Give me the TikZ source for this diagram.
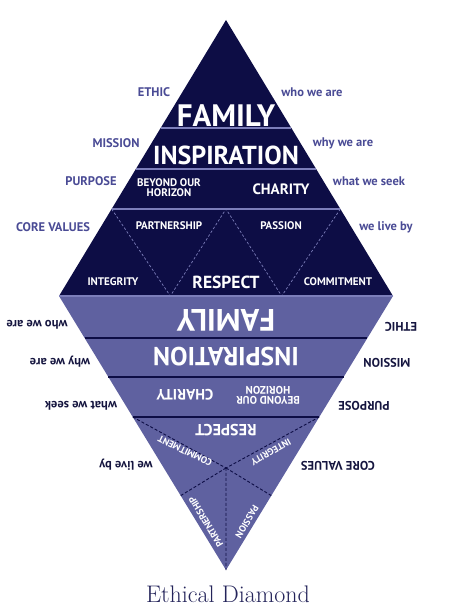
\documentclass[tikz,border=0pt]{standalone}
\usepackage{fontspec}
\usepackage{xcolor}
\usepackage{tikz}
\usetikzlibrary{calc}
\newfontfamily\ptsans{PT Sans}
\definecolor{navy}{HTML}{0D0D45}
\definecolor{lavender}{HTML}{5F61A0}
\definecolor{lightline}{HTML}{7C7EBA}
\definecolor{sideblue}{HTML}{4A4B95}
\definecolor{sidedark}{HTML}{15153F}
\definecolor{titlenavy}{HTML}{24245A}
\tikzset{
    % inner labels
    inlabel/.style={text=white, inner sep=0pt, align=center},
    hugelabel/.style={inlabel, font=\ptsans\bfseries\fontsize{31}{31}\selectfont},
    biglabel/.style={inlabel, font=\ptsans\bfseries\fontsize{26}{26}\selectfont},
    midlabel/.style={inlabel, font=\ptsans\bfseries\fontsize{15}{15}\selectfont},
    smalllabel/.style={inlabel, font=\ptsans\bfseries\fontsize{11}{11}\selectfont},
    tinylabel/.style={inlabel, font=\ptsans\bfseries\fontsize{9.5}{10}\selectfont},
    % side labels
    sidetop/.style={text=sideblue, inner sep=0pt, font=\ptsans\bfseries\fontsize{12.5}{13}\selectfont},
    sidebottom/.style={text=sidedark, inner sep=0pt, rotate=180, font=\ptsans\bfseries\fontsize{12.5}{13}\selectfont},
    % separators
    topsep/.style={draw=lightline, line width=1.8pt},
    bottomsep/.style={draw=navy, line width=2.6pt},
    topdash/.style={draw=lightline, line width=0.7pt, dash pattern=on 2.5pt off 2pt},
    bottomdash/.style={draw=navy, line width=0.9pt, dash pattern=on 3pt off 2pt}
}
\begin{document}
\begin{tikzpicture}[x=1pt, y=-1pt]
\useasboundingbox (0,0) rectangle (450,615);
% Corners of the diamond
\coordinate (T) at (226,20);
\coordinate (L) at (59,296);
\coordinate (R) at (393,296);
\coordinate (B) at (226,570);

% Upper triangle
\fill[navy] (T) -- (R) -- (L) -- cycle;
% Lower triangle
\fill[lavender] (L) -- (R) -- (B) -- cycle;
\draw[lightline, line width=2pt] (L) -- (R);

% Upper bands
\draw[topsep] ($(T)!0.3913!(L)$) -- ($(T)!0.3913!(R)$);
\draw[topsep] ($(T)!0.5399!(L)$) -- ($(T)!0.5399!(R)$);
\draw[topsep] ($(T)!0.6848!(L)$) coordinate (a1) -- ($(T)!0.6848!(R)$) coordinate (a3);
\coordinate (a2) at ($(a1)!0.5!(a3)$);
\coordinate (b1) at ($(L)!0.3333!(R)$);
\coordinate (b2) at ($(L)!0.6667!(R)$);
\draw[topdash] (a1) -- (b1) -- (a2) -- (b2) -- (a3);

% Lower bands
\draw[bottomsep] ($(B)!0.8467!(L)$) -- ($(B)!0.8467!(R)$);
\draw[bottomsep] ($(B)!0.7044!(L)$) -- ($(B)!0.7044!(R)$);
\draw[bottomsep] ($(B)!0.5584!(L)$) coordinate (p1) -- ($(B)!0.5584!(R)$) coordinate (p2);
\coordinate (c) at ($1/3*(p1)+1/3*(p2)+1/3*(B)$);
\draw[bottomdash] (p1) -- (c) -- (p2);
\draw[bottomdash] (c) -- (B);
\draw[bottomdash] (c) -- ($(p1)!(c)!(B)$);
\draw[bottomdash] (c) -- ($(p2)!(c)!(B)$);

% Upper labels
\node[hugelabel] (family) at (226,116) {FAMILY};
\node[biglabel] (inspiration) at (226,155) {INSPIRATION};
\node[smalllabel] (horizon) at (169,188) {BEYOND OUR\\[-1pt]HORIZON};
\node[midlabel] (charity) at (281,189) {CHARITY};
\node[smalllabel] (partnership) at (169,226) {PARTNERSHIP};
\node[smalllabel] (passion) at (281,226) {PASSION};
\node[smalllabel] (integrity) at (113,282) {INTEGRITY};
\node[midlabel, font=\ptsans\bfseries\fontsize{17.5}{17.5}\selectfont] (respect) at (226,282) {RESPECT};
\node[smalllabel] (commitment) at (338,282) {COMMITMENT};

% Lower labels (turned round)
\node[hugelabel, rotate=180] (family2) at (226,320) {FAMILY};
\node[biglabel, rotate=180] (inspiration2) at (226,357) {INSPIRATION};
\node[midlabel, rotate=180] (charity2) at (185,395) {CHARITY};
\node[smalllabel, rotate=180] (horizon2) at (268,395) {BEYOND OUR\\[-1pt]HORIZON};
\node[midlabel, rotate=180, font=\ptsans\bfseries\fontsize{16}{16}\selectfont] (respect2) at (226,430) {RESPECT};
\node[tinylabel, rotate=154] (commitment2) at (185,451) {COMMITMENT};
\node[tinylabel, rotate=209] (integrity2) at (271,452) {INTEGRITY};
\node[tinylabel, rotate=121] (partnership2) at (206,522) {PARTNERSHIP};
\node[tinylabel, rotate=239] (passion2) at (247,522) {PASSION};

% Side labels, upper half
\node[sidetop] (ethic) at (154,92) {ETHIC};
\node[sidetop] (whoweare) at (312,92) {who we are};
\node[sidetop] (mission) at (116,143) {MISSION};
\node[sidetop] (whyweare) at (343,143) {why we are};
\node[sidetop] (purpose) at (91,181) {PURPOSE};
\node[sidetop] (whatweseek) at (369,181) {what we seek};
\node[sidetop] (corevalues) at (53,227) {CORE VALUES};
\node[sidetop] (weliveby) at (386,227) {we live by};

% Side labels, lower half
\node[sidebottom] (whoweare2) at (37,325) {who we are};
\node[sidebottom] (whyweare2) at (60,362) {why we are};
\node[sidebottom] (whatweseek2) at (81,406) {what we seek};
\node[sidebottom] (weliveby2) at (126,465) {we live by};
\node[sidebottom] (ethic2) at (401,327) {ETHIC};
\node[sidebottom] (mission2) at (387,363) {MISSION};
\node[sidebottom] (purpose2) at (364,406) {PURPOSE};
\node[sidebottom] (corevalues2) at (338,466) {CORE VALUES};

% Title
\node[text=titlenavy, font=\fontsize{24}{24}\selectfont, inner sep=0pt] (title) at (228,594) {Ethical Diamond};
\end{tikzpicture}
\end{document}
